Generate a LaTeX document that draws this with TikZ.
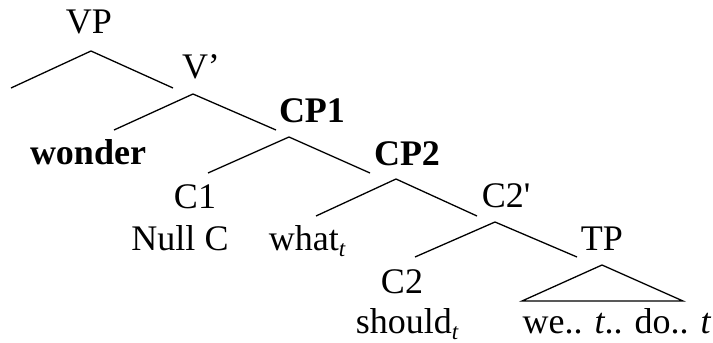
\documentclass[tikz,border=0pt]{standalone}
\usepackage{fontspec}
\setmainfont{Liberation Serif}
\newcommand\subt{{\fontsize{23}{23}\selectfont\raisebox{-6pt}{\itshape t}}}
\tikzset{
  lbl/.style={anchor=base, inner sep=0pt, font=\fontsize{36}{40}\selectfont},
  blbl/.style={lbl, font=\fontsize{36}{40}\selectfont\bfseries},
  branch/.style={line width=1.3pt},
}
\begin{document}
\begin{tikzpicture}[x=1pt,y=-1pt]
\useasboundingbox (0,0) rectangle (713,343);
% labels
\node[lbl]  (vp)    at (89,33)  {VP};
\node[lbl]  (vbar)  at (201,78) {V’};
\node[blbl] (cp1)   at (312,122) {CP1};
\node[blbl] (wonder) at (88,164) {wonder};
\node[lbl]  (c1)    at (195,208) {C1};
\node[lbl]  (nullc) at (180,250) {Null C};
\node[lbl]  (what)  at (307,250) {what\subt};
\node[blbl] (cp2)   at (407,165) {CP2};
\node[lbl]  (c2bar) at (506,207) {C2\textquotesingle};
\node[lbl]  (tp)    at (602,250) {TP};
\node[lbl]  (c2)    at (402,293) {C2};
\node[lbl]  (should) at (407,333) {should\subt};
\node[lbl]  (we)    at (617,333) {we.. \textit{t}.. do.. \textit{t}};
% branch points
\coordinate (vpA) at (91,51);  \coordinate (vpL) at (11,88);   \coordinate (vpR) at (173,88);
\coordinate (vbA) at (193,94); \coordinate (vbL) at (114,130); \coordinate (vbR) at (276,130);
\coordinate (c1A) at (289,137); \coordinate (c1L) at (208,173); \coordinate (c1R) at (370,173);
\coordinate (c2A) at (396,179); \coordinate (c2L) at (316,216); \coordinate (c2R) at (477,216);
\coordinate (cbA) at (495,222); \coordinate (cbL) at (415,257); \coordinate (cbR) at (577,257);
\coordinate (tpA) at (602,265); \coordinate (tpL) at (522,301); \coordinate (tpR) at (683,301);
\draw[branch] (vpL) -- (vpA) -- (vpR);
\draw[branch] (vbL) -- (vbA) -- (vbR);
\draw[branch] (c1L) -- (c1A) -- (c1R);
\draw[branch] (c2L) -- (c2A) -- (c2R);
\draw[branch] (cbL) -- (cbA) -- (cbR);
\draw[branch] (tpL) -- (tpA) -- (tpR) -- cycle;
\end{tikzpicture}
\end{document}
